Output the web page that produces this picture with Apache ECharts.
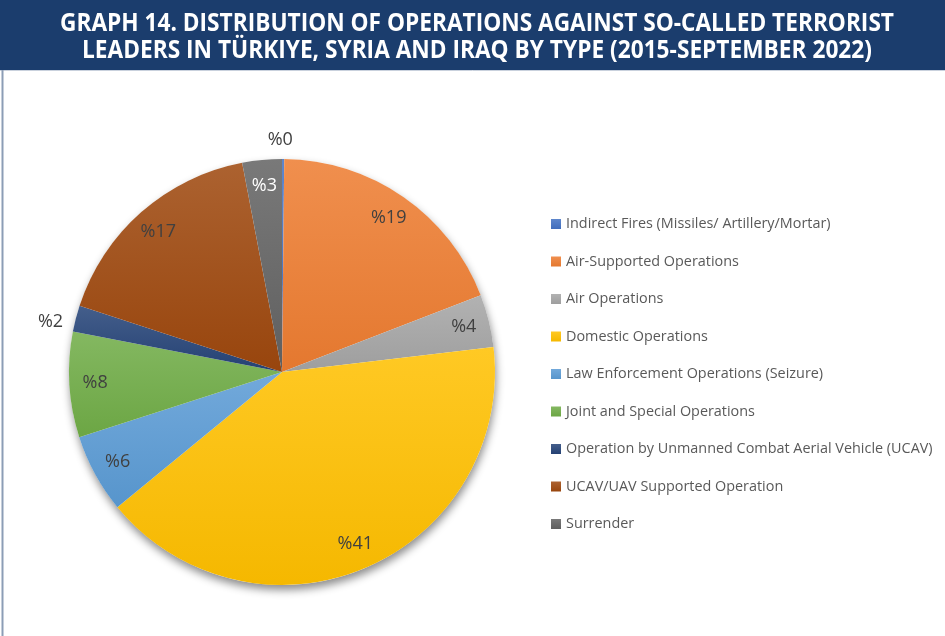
<!DOCTYPE html>
<html>
<head>
<meta charset="utf-8">
<script src="https://cdn.jsdelivr.net/npm/echarts@6/dist/echarts.min.js"></script>
<style>
  html, body { margin: 0; padding: 0; background: #ffffff; }
  #chart { width: 945px; height: 636px; }
</style>
</head>
<body>
<div id="chart"></div>
<script>
// Operation types, in drawing order (clockwise from the top)
const categories = [
  'Indirect Fires (Missiles/ Artillery/Mortar)',
  'Air-Supported Operations',
  'Air Operations',
  'Domestic Operations',
  'Law Enforcement Operations (Seizure)',
  'Joint and Special Operations',
  'Operation by Unmanned Combat Aerial Vehicle (UCAV)',
  'UCAV/UAV Supported Operation',
  'Surrender'
];
// Share of operations, percent
const shares = [0, 19, 4, 41, 6, 8, 2, 17, 3];
const colors = ['#4472C4', '#ED7D31', '#A5A5A5', '#FFC000', '#5B9BD5', '#70AD47', '#264478', '#9E480E', '#636363'];
// Slices whose label sits outside the pie
const outsideLabels = ['Indirect Fires (Missiles/ Artillery/Mortar)', 'Operation by Unmanned Combat Aerial Vehicle (UCAV)'];

const titleLines = [
  'GRAPH 14. DISTRIBUTION OF OPERATIONS AGAINST SO-CALLED TERRORIST',
  'LEADERS IN TÜRKIYE, SYRIA AND IRAQ BY TYPE (2015-SEPTEMBER 2022)'
];
// target printed widths of the two condensed title lines
const titleWidths = [834, 790];

function shade(hex, amt) {
  const n = parseInt(hex.slice(1), 16);
  let r = (n >> 16) & 255, g = (n >> 8) & 255, b = n & 255;
  const f = c => Math.max(0, Math.min(255, Math.round(amt >= 0 ? c + (255 - c) * amt : c * (1 + amt))));
  return 'rgb(' + f(r) + ',' + f(g) + ',' + f(b) + ')';
}
function fill(hex) {
  return {
    type: 'linear', x: 0, y: 0, x2: 0, y2: 1,
    colorStops: [
      { offset: 0, color: shade(hex, 0.14) },
      { offset: 1, color: shade(hex, -0.04) }
    ]
  };
}

const CENTER = [282, 372];
const R = 213;
const MIN_ANGLE = 0.6;
const LABEL_FONT = '"Open Sans", "Noto Sans", sans-serif';
const TITLE_FONT = 'bold 25px "Open Sans", "Noto Sans", sans-serif';

// condense the title horizontally to the width of a condensed bold face
const measureCtx = document.createElement('canvas').getContext('2d');
measureCtx.font = TITLE_FONT;
function titleText(i, y) {
  const w = measureCtx.measureText(titleLines[i]).width;
  return {
    type: 'text', z: 1, x: 477, y: y,
    scaleX: titleWidths[i] / w,
    style: {
      text: titleLines[i], fill: '#ffffff', align: 'center', verticalAlign: 'middle',
      font: TITLE_FONT
    }
  };
}

const chart = echarts.init(document.getElementById('chart'), null, { renderer: 'canvas' });

const option = {
  backgroundColor: '#ffffff',
  animation: false,
  graphic: [
    { type: 'rect', z: 0, shape: { x: 0, y: 0, width: 945, height: 70 }, style: { fill: '#1b3d6d' } },
    { type: 'line', z: 0, shape: { x1: 0, y1: 70.5, x2: 945, y2: 70.5 }, style: { stroke: '#c9d1dd', lineWidth: 1 } },
    { type: 'line', z: 0, shape: { x1: 2.5, y1: 70, x2: 2.5, y2: 636 }, style: { stroke: '#8c9db6', lineWidth: 2 } },
    titleText(0, 24),
    titleText(1, 50.5)
  ],
  legend: {
    orient: 'vertical',
    left: 551,
    top: 216,
    padding: 0,
    icon: 'rect',
    itemWidth: 10,
    itemHeight: 10,
    itemGap: 21.5,
    selectedMode: false,
    data: categories,
    textStyle: { fontSize: 14.4, lineHeight: 16, color: '#595959', fontFamily: LABEL_FONT }
  },
  series: [
    {
      // soft drop shadow under the pie
      type: 'pie',
      silent: true,
      z: 1,
      center: CENTER,
      radius: R,
      label: { show: false },
      labelLine: { show: false },
      itemStyle: { color: '#ffffff', shadowBlur: 9, shadowOffsetX: 1, shadowOffsetY: 5, shadowColor: 'rgba(0,0,0,0.45)' },
      data: [{ value: 1, name: '' }]
    },
    {
      type: 'pie',
      z: 2,
      center: CENTER,
      radius: R,
      startAngle: 90,
      clockwise: true,
      minAngle: MIN_ANGLE,
      avoidLabelOverlap: false,
      emphasis: { disabled: true },
      label: { show: false },
      labelLine: { show: false },
      labelLayout: function (p) {
        if (p.dataIndex === 0) return { align: 'center', dx: -8 };
        return { dy: 5 };
      },
      data: categories.map((name, i) => {
        const item = { name: name, value: shares[i], itemStyle: { color: fill(colors[i]) } };
        if (outsideLabels.indexOf(name) >= 0) {
          item.label = {
            show: true, position: 'outside',
            formatter: '%{c}', color: '#404040', fontSize: 18, fontFamily: LABEL_FONT
          };
          item.labelLine = { show: false, length: i === 0 ? 19 : 8, length2: 0 };
        }
        return item;
      })
    },
    {
      // transparent ring carrying the inside labels near the rim
      type: 'pie',
      z: 3,
      silent: true,
      center: CENTER,
      radius: [R * 0.73, R],
      startAngle: 90,
      clockwise: true,
      minAngle: MIN_ANGLE,
      avoidLabelOverlap: false,
      itemStyle: { color: 'rgba(0,0,0,0)' },
      label: {
        show: true, position: 'inside', formatter: '%{c}',
        color: '#404040', fontSize: 18, fontFamily: LABEL_FONT
      },
      labelLine: { show: false },
      data: categories.map((name, i) => {
        const item = { name: name, value: shares[i] };
        if (outsideLabels.indexOf(name) >= 0) item.label = { show: false };
        if (name === 'Surrender') item.label = { color: '#ffffff' };
        return item;
      })
    }
  ]
};

chart.setOption(option);
</script>
</body>
</html>
